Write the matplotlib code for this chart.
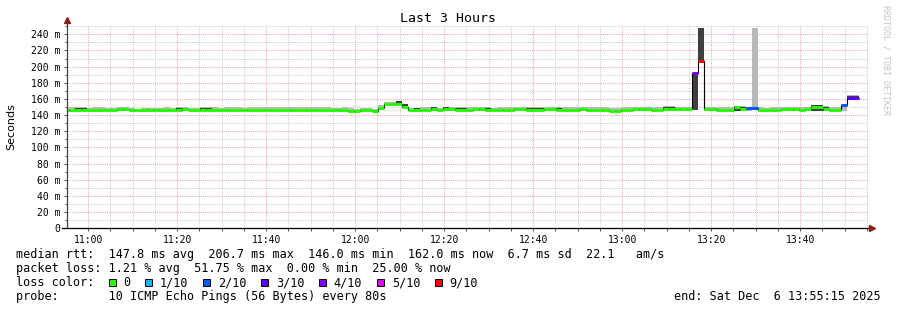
import numpy as np
import matplotlib
matplotlib.use("Agg")
import matplotlib.pyplot as plt
from matplotlib.patches import Rectangle
from matplotlib.ticker import MultipleLocator, FuncFormatter

# ---- data (80 s steps, times in minutes of the day) ----
t_start = 10 * 60 + 55 + 15 / 60      # 10:55:15
t_end = 13 * 60 + 55 + 15 / 60        # 13:55:15
first_edge = 10 * 60 + 54 + 28 / 60
step = 80 / 60

nan = np.nan
median = [
    146, 146, 146, 146, 146, 146, 146, 146, 146, 147.5,
    147.5, 146, 146, 146, 146, 146, 146, 146, 146, 146,
    147, 146, 146, 146, 146, 146.5, 146, 146, 146, 146,
    146, 146, 146, 146, 146.5, 146, 146, 146, 146, 146,
    146, 146, 146, 146, 146, 146, 146, 146, 145.5, 145.5,
    146.5, 146, 145.5, 149, 153.5, 153.5, 153.5, 150, 146, 146,
    146.5, 146.5, 148, 146, 148, 148, 146, 146, 146, 147,
    147, 146, 146, 146, 146, 146, 148, 148, 146, 146,
    146, 148, 148, 146, 146, 146, 146, 147, 146, 146,
    146, 146, 145.5, 145.5, 146, 146, 147.5, 148, 148, 146,
    146, 147, 147, 147, 148, 148, 192, 206.7, 148, 148,
    146, 146, 146, 150, 148, 148.5, 148.5, 146, 146, 146,
    146, 147, 147, 147, 146, 147, 150, 150, 148, 146,
    146, 152, 161.8, 161.8, nan, nan,
]
# lost pings out of 10
loss = [
    0, 0, 0, 0, 0, 0, 0, 0, 0, 0,
    0, 0, 0, 0, 0, 0, 0, 0, 0, 0,
    0, 0, 0, 0, 0, 0, 0, 0, 0, 0,
    0, 0, 0, 0, 0, 0, 0, 0, 0, 0,
    0, 0, 0, 0, 0, 0, 0, 0, 0, 0,
    0, 0, 0, 0, 0, 0, 0, 0, 0, 0,
    0, 0, 0, 0, 0, 0, 0, 0, 0, 0,
    0, 0, 0, 0, 0, 0, 0, 0, 0, 0,
    0, 0, 0, 0, 0, 0, 0, 0, 0, 0,
    0, 0, 0, 0, 0, 0, 0, 0, 0, 0,
    0, 0, 0, 0, 0, 0, 4, 9, 0, 0,
    0, 0, 0, 0, 0, 2, 2, 0, 0, 0,
    0, 0, 0, 0, 0, 0, 0, 0, 0, 0,
    0, 2, 3, 3, nan, nan,
]
ping_min = [
    145.5, 145.5, 145.5, 145.5, 145.5, 145.5, 145.5, 145.5, 145.5, 145.5,
    145.5, 145.5, 145.5, 145.5, 145.5, 145.5, 145.5, 145.5, 145.5, 145.5,
    145.5, 145.5, 145.5, 145.5, 145.5, 145.5, 145.5, 145.5, 145.5, 145.5,
    145.5, 145.5, 145.5, 145.5, 145.5, 145.5, 145.5, 145.5, 145.5, 145.5,
    145.5, 145.5, 145.5, 145.5, 145.5, 145.5, 145.5, 145.5, 145.5, 145.5,
    145.5, 145.5, 145.5, 148.5, 153, 153, 153, 149.5, 145.5, 145.5,
    145.5, 145.5, 145.5, 145.5, 145.5, 145.5, 145.5, 145.5, 145.5, 145.5,
    145.5, 145.5, 145.5, 145.5, 145.5, 145.5, 145.5, 145.5, 145.5, 145.5,
    145.5, 145.5, 145.5, 145.5, 145.5, 145.5, 145.5, 145.5, 145.5, 145.5,
    145.5, 145.5, 145.5, 145.5, 145.5, 145.5, 145.5, 145.5, 145.5, 145.5,
    145.5, 145.5, 145.5, 145.5, 145.5, 145.5, 146, 206, 145.5, 145.5,
    145.5, 145.5, 145.5, 145.5, 145.5, 145.5, 148, 145.5, 145.5, 145.5,
    145.5, 145.5, 145.5, 145.5, 145.5, 145.5, 145.5, 145.5, 145.5, 145.5,
    145.5, 145, 160, 160, nan, nan,
]
ping_max = [
    149, 149.5, 150, 150, 149, 149.5, 149.5, 148.5, 149, 150.5,
    150.5, 149, 148, 148.5, 149, 149, 149, 149.5, 148.5, 150,
    150, 149, 149, 149.5, 149.5, 149.5, 149, 150, 150, 149.5,
    149, 149.5, 150, 150, 150, 149.5, 149.5, 150, 150, 150,
    150, 149.5, 149.5, 150, 150, 149, 149, 149.5, 148.5, 148,
    149, 148.5, 148, 152, 156.5, 156.5, 157.5, 154, 149, 149,
    149.5, 149.5, 150, 149, 150.5, 150.5, 149.5, 150.5, 150.5, 150,
    150.5, 150.5, 149, 149.5, 149.5, 149.5, 150.5, 150.5, 150.5, 150.5,
    150.5, 150.5, 150.5, 150.5, 150, 150, 150.5, 150.5, 150.5, 150,
    149.5, 149.5, 149, 149, 149.5, 149.5, 150, 150.5, 150.5, 150.5,
    150.5, 151, 151, 150, 150.5, 150.5, 192, 248, 149.5, 149.5,
    150, 150, 150, 151.5, 151.5, 150, 248, 149.5, 149, 149.5,
    150, 150.5, 150.5, 150.5, 150.5, 150, 152, 152, 151.5, 149.5,
    149.5, 153, 164.5, 164.5, nan, nan,
]
# top of the dense (dark) part of the smoke
ping_core = [
    nan, nan, 148.5, 148.5, nan, nan, 148, nan, nan, nan,
    148.5, nan, nan, nan, 148, 148, 148, nan, nan, 149,
    149, nan, nan, 148.5, 148.5, nan, nan, nan, nan, nan,
    nan, nan, nan, nan, nan, nan, nan, nan, nan, nan,
    nan, nan, nan, nan, nan, nan, nan, nan, nan, nan,
    nan, nan, nan, nan, nan, nan, 157.5, 154, nan, 148.5,
    nan, nan, 149.5, nan, 149.5, nan, 149, 149, nan, nan,
    149, 149, nan, nan, nan, nan, nan, nan, 149, 149,
    149, nan, nan, 149, nan, nan, nan, nan, nan, nan,
    nan, nan, nan, nan, nan, nan, nan, nan, nan, nan,
    nan, 149.5, 149.5, nan, nan, nan, 192, 248, nan, nan,
    nan, nan, nan, 151, 150, nan, nan, nan, nan, nan,
    nan, nan, nan, 149, nan, nan, 152, 152, 150, nan,
    nan, nan, 164, 164, nan, nan,
]

loss_legend = [("0", 0, "#26ff00"), ("1/10", 1, "#00b8ff"), ("2/10", 2, "#0059ff"),
               ("3/10", 3, "#5e00ff"), ("4/10", 4, "#7e00ff"), ("5/10", 5, "#dd00ff"),
               ("9/10", 9, "#ff0000")]

stats_rtt = "median rtt:  147.8 ms avg  206.7 ms max  146.0 ms min  162.0 ms now  6.7 ms sd  22.1   am/s"
stats_loss = "packet loss: 1.21 % avg  51.75 % max  0.00 % min  25.00 % now"
probe_txt = "probe:       10 ICMP Echo Pings (56 Bytes) every 80s"
end_txt = "end: Sat Dec  6 13:55:15 2025"

# ---- figure ----
W, H = 897, 310
mono = "DejaVu Sans Mono"
fig = plt.figure(figsize=(W / 100, H / 100), dpi=100)
fig.patch.set_facecolor("white")

y0, y1 = 228.3, 26.2
ax = fig.add_axes([67 / W, 1 - y0 / H, 801 / W, (y0 - y1) / H])
ax.set_xlim(t_start, t_end)
ax.set_ylim(0, 250)

med = np.array(median, float)
lo = np.array(ping_min, float)
hi = np.array(ping_max, float)
core = np.array(ping_core, float)
lss = np.array(loss, float)
edges = first_edge + step * np.arange(len(med) + 1)

# smoke
ax.bar(edges[:-1], hi - lo, bottom=lo, width=step, align="edge",
       color="#b8b8b8", linewidth=0, zorder=2)
ax.bar(edges[:-1], core - lo, bottom=lo, width=step, align="edge",
       color="#3e3e3e", linewidth=0, zorder=3)

# median line + loss colours
ax.stairs(med, edges, baseline=None, color="black", linewidth=0.8, zorder=4)
for lab, n, col in loss_legend:
    m = lss == n
    if m.any():
        ax.hlines(med[m], edges[:-1][m], edges[1:][m], colors=col,
                  linewidth=2.2, capstyle="butt", zorder=5)

# grid
ax.xaxis.set_major_locator(MultipleLocator(20))
ax.xaxis.set_minor_locator(MultipleLocator(5))
ax.yaxis.set_major_locator(MultipleLocator(20))
ax.yaxis.set_minor_locator(MultipleLocator(10))
ax.set_axisbelow(True)
ax.grid(which="major", color="#f4a8a8", linestyle=(0, (1, 1)), linewidth=0.75)
ax.grid(which="minor", color="#cdcdcd", linestyle=(0, (1, 1)), linewidth=0.75)

ax.xaxis.set_major_formatter(FuncFormatter(
    lambda v, p: "%02d:%02d" % (int(round(v)) // 60, int(round(v)) % 60)))
ax.yaxis.set_major_formatter(FuncFormatter(
    lambda v, p: "0" if v == 0 else "%d m" % v))
ax.tick_params(which="both", length=2, width=0.7, color="#505050",
               labelsize=7, pad=3)
ax.tick_params(axis="y", which="minor", length=1.5)
for lab in ax.get_xticklabels() + ax.get_yticklabels():
    lab.set_family(mono)

for s in ax.spines.values():
    s.set_visible(False)
ax.plot([0, 0], [0, 1.025], transform=ax.transAxes, color="#404040",
        lw=0.9, clip_on=False, zorder=6)
ax.plot([-0.006, 1.004], [0, 0], transform=ax.transAxes, color="black",
        lw=0.9, clip_on=False, zorder=6)
ax.plot(0, 1.03, marker="^", ms=4, color="#8b1c1c", transform=ax.transAxes,
        clip_on=False, zorder=7)
ax.plot(1.005, 0, marker=">", ms=4, color="#8b1c1c", transform=ax.transAxes,
        clip_on=False, zorder=7)

# texts
fig.text(448 / W, 1 - 19 / H, "Last 3 Hours", ha="center", va="center",
         family=mono, size=9.5)
fig.text(11 / W, 1 - 127 / H, "Seconds", rotation=90, ha="center",
         va="center", size=8)
fig.text(885.5 / W, 1 - 60 / H, "RRDTOOL / TOBI OETIKER", rotation=270,
         ha="center", va="center", family=mono, size=6, color="#c4c4c4")

fs = 8.5
cw = 7.1
fig.text(16 / W, 1 - 254.5 / H, stats_rtt, va="center", family=mono, size=fs)
fig.text(16 / W, 1 - 268.5 / H, stats_loss, va="center", family=mono, size=fs)
fig.text(16 / W, 1 - 282.5 / H, "loss color:", va="center", family=mono, size=fs)
fig.text(16 / W, 1 - 296.5 / H, probe_txt, va="center", family=mono, size=fs)
fig.text(881 / W, 1 - 296.5 / H, end_txt, ha="right", va="center",
         family=mono, size=fs)

x = 108.5
for lab, n, col in loss_legend:
    fig.patches.append(Rectangle(((x) / W, 1 - 286 / H), 7 / W, 7 / H,
                                 transform=fig.transFigure, facecolor=col,
                                 edgecolor="black", linewidth=0.7))
    fig.text((x + 15) / W, 1 - 282.5 / H, lab, va="center", family=mono, size=fs)
    x = x + 15 + len(lab) * cw + 14.5

fig.savefig("out.png", dpi=100, facecolor="white")
